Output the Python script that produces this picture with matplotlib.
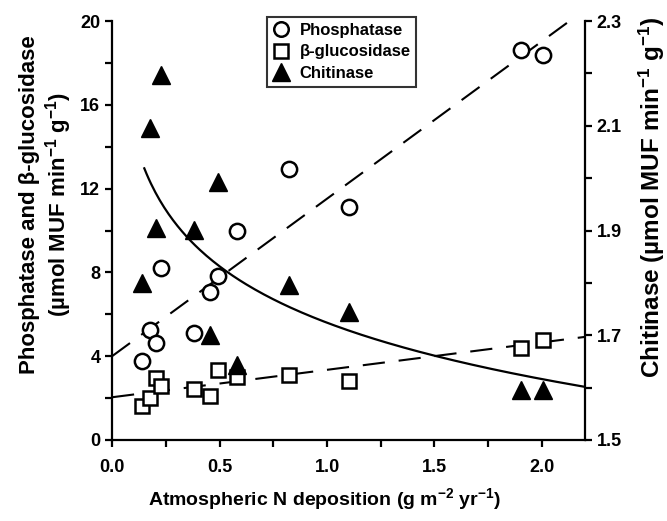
import matplotlib

matplotlib.use("Agg")
import matplotlib.pyplot as plt
import numpy as np

plt.rcParams["font.family"] = ["Liberation Sans", "DejaVu Sans"]
plt.rcParams["font.weight"] = "bold"
plt.rcParams["axes.labelweight"] = "bold"
plt.rcParams["mathtext.fontset"] = "custom"
plt.rcParams["mathtext.rm"] = "Liberation Sans:bold"
plt.rcParams["mathtext.bf"] = "Liberation Sans:bold"
plt.rcParams["mathtext.it"] = "Liberation Sans:bold"
plt.rcParams["lines.scale_dashes"] = False

# site N deposition (g m-2 yr-1), shared by all three enzymes
n_dep = [0.14, 0.175, 0.205, 0.228, 0.383, 0.455, 0.495, 0.58, 0.824, 1.103, 1.902, 2.004]
phosphatase = [3.77, 5.25, 4.64, 8.19, 5.12, 7.08, 7.83, 9.99, 12.92, 11.11, 18.62, 18.38]
glucosidase = [1.62, 2.02, 2.94, 2.58, 2.42, 2.12, 3.34, 3.02, 3.09, 2.82, 4.37, 4.77]
chitinase = [1.799, 2.095, 1.904, 2.197, 1.901, 1.700, 1.993, 1.643, 1.796, 1.745, 1.595, 1.595]

# regression fits
phos_fit = (4.0, 7.52)      # intercept, slope
gluc_fit = (2.04, 1.31)     # intercept, slope
chit_fit = (1.724, -0.1554)  # a + b*ln(x)

fig = plt.figure(figsize=(6.67, 5.21), dpi=100)
ax = fig.add_axes([0.168, 0.1555, 0.709, 0.804])
ax2 = ax.twinx()

dash = (16, 10)
xl = np.linspace(0, 2.2, 200)
ax.plot(xl, phos_fit[0] + phos_fit[1] * xl, color="black", lw=1.5, dashes=dash)
ax.plot(xl, gluc_fit[0] + gluc_fit[1] * xl, color="black", lw=1.5, dashes=dash)

h1, = ax.plot(n_dep, phosphatase, "o", ms=11, mfc="white", mec="black", mew=1.8,
              linestyle="none", label="Phosphatase")
h2, = ax.plot(n_dep, glucosidase, "s", ms=10, mfc="white", mec="black", mew=1.8,
              linestyle="none", label="\u03b2-glucosidase")

xc = np.linspace(0.15, 2.2, 200)
ax2.plot(xc, chit_fit[0] + chit_fit[1] * np.log(xc), color="black", lw=1.6)
h3, = ax2.plot(n_dep, chitinase, "^", ms=13, color="black", linestyle="none",
               label="Chitinase")

ax.set_xlim(0, 2.2)
ax.set_ylim(0, 20)
ax2.set_ylim(1.5, 2.3)
ax.set_xticks([0, 0.5, 1.0, 1.5, 2.0])
ax.set_xticks([0.25, 0.75, 1.25, 1.75], minor=True)
ax.set_xticklabels(["0.0", "0.5", "1.0", "1.5", "2.0"])
ax.set_yticks([0, 4, 8, 12, 16, 20])
ax.set_yticks([2, 6, 10, 14, 18], minor=True)
ax2.set_yticks([1.5, 1.7, 1.9, 2.1, 2.3])
ax2.set_yticks([1.6, 1.8, 2.0, 2.2], minor=True)

for a in (ax, ax2):
    a.spines["top"].set_visible(False)
    for s in a.spines.values():
        s.set_linewidth(1.6)
    a.tick_params(which="both", direction="out", length=5, width=1.6, labelsize=13)
ax.tick_params(axis="x", pad=9)
ax.spines["right"].set_visible(False)
ax2.spines["left"].set_visible(False)
ax2.spines["bottom"].set_visible(False)

ax.set_xlabel("Atmospheric N deposition (g m$^{-2}$ yr$^{-1}$)", fontsize=14,
              fontweight="bold")
ax.xaxis.set_label_coords(0.45, -0.11)
ax.set_ylabel("Phosphatase and \u03b2-glucosidase\n(\u00b5mol MUF min$^{-1}$ g$^{-1}$)",
              fontsize=16, fontweight="bold", linespacing=1.15)
ax.yaxis.set_label_coords(-0.08, 0.563)
ax2.set_ylabel("Chitinase (\u00b5mol MUF min$^{-1}$ g$^{-1}$)", fontsize=17.5,
               fontweight="bold", rotation=90)
ax2.yaxis.set_label_coords(1.11, 0.578)

leg = ax2.legend(handles=[h1, h2, h3], loc="upper left", bbox_to_anchor=(0.31, 1.03),
                 fontsize=12, frameon=True, fancybox=False, edgecolor="black",
                 handlelength=1.0, handletextpad=0.6, borderpad=0.35, labelspacing=0.4,
                 markerscale=0.95)
leg.get_frame().set_linewidth(1.5)

fig.savefig("out.png", dpi=100)
